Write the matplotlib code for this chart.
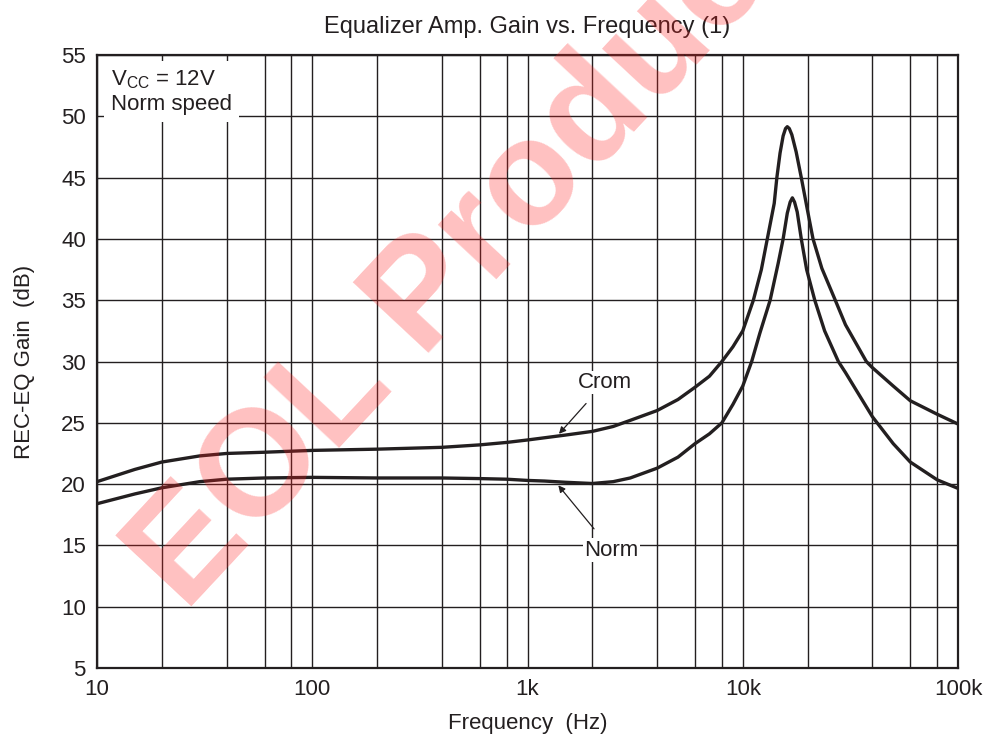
import numpy as np
import matplotlib
matplotlib.use("Agg")
import matplotlib.pyplot as plt
from matplotlib.ticker import FixedLocator, FixedFormatter, NullFormatter

plt.rcParams['font.family'] = ['Liberation Sans', 'DejaVu Sans']
plt.rcParams['mathtext.fontset'] = 'custom'
plt.rcParams['mathtext.rm'] = 'Liberation Sans'

# readings from the curves (Hz, dB)
crom_f = [10, 15, 20, 30, 40, 60, 100, 200, 400, 600, 800, 1000, 1500, 2000,
          2500, 3000, 4000, 5000, 6000, 7000, 8000, 9000, 10000, 11200, 12200,
          13000, 14000, 14400, 14900, 15400, 15800, 16100, 16450, 16900,
          17700, 18700, 20000, 21200, 23300, 26900, 30000, 37500, 40000,
          50000, 60000, 80000, 100000]
crom_db = [20.2, 21.2, 21.8, 22.3, 22.5, 22.6, 22.75, 22.85, 23.0, 23.2, 23.4,
           23.6, 24.0, 24.3, 24.7, 25.2, 26.0, 26.9, 27.9, 28.8, 30.0, 31.2,
           32.5, 35.0, 37.5, 40.0, 42.9, 45.0, 47.0, 48.4, 49.0, 49.15, 49.0,
           48.5, 47.1, 45.0, 42.3, 40.0, 37.6, 35.0, 33.0, 30.0, 29.5, 28.0,
           26.8, 25.7, 24.9]

norm_f = [10, 15, 20, 30, 40, 60, 100, 200, 400, 600, 800, 1000, 1200, 1500,
          2000, 2500, 3000, 4000, 5000, 6000, 7000, 8000, 9000, 10000, 11000,
          12000, 13400, 14600, 15400, 16100, 16600, 17000, 17400, 17900,
          18700, 19800, 21600, 24000, 27800, 30000, 40000, 50000, 60000,
          80000, 100000]
norm_db = [18.4, 19.2, 19.7, 20.2, 20.4, 20.5, 20.55, 20.5, 20.5, 20.45, 20.4,
           20.3, 20.25, 20.15, 20.05, 20.2, 20.5, 21.3, 22.2, 23.3, 24.1, 25.0,
           26.5, 28.0, 30.0, 32.3, 35.0, 38.0, 40.0, 42.1, 43.0, 43.35, 43.0,
           42.2, 40.0, 37.5, 35.0, 32.5, 30.0, 29.1, 25.5, 23.3, 21.8, 20.35,
           19.65]

x_ticks = [10, 100, 1000, 10000, 100000]
x_labels = ['10', '100', '1k', '10k', '100k']
x_minor = [m * d for d in [10, 100, 1000, 10000] for m in [2, 4, 6, 8]]
y_ticks = list(range(5, 56, 5))

ink = '#231f20'

fig = plt.figure(figsize=(9.9, 7.42), dpi=100)
ax = fig.add_axes([0.098, 0.0997, 0.8697, 0.8262])

# watermark behind everything
fig.text(0.187, 0.174, 'EOL Product', fontsize=108, fontweight='bold',
         color='#ff2020', alpha=0.28, rotation=47, rotation_mode='anchor',
         ha='left', va='baseline', zorder=0)
ax.set_facecolor('none')

ax.plot(crom_f, crom_db, color=ink, lw=2.4, zorder=3)
ax.plot(norm_f, norm_db, color=ink, lw=2.4, zorder=3)

ax.set_xscale('log')
ax.set_xlim(10, 100000)
ax.set_ylim(5, 55)
ax.xaxis.set_major_locator(FixedLocator(x_ticks))
ax.xaxis.set_major_formatter(FixedFormatter(x_labels))
ax.xaxis.set_minor_locator(FixedLocator(x_minor))
ax.xaxis.set_minor_formatter(NullFormatter())
ax.set_yticks(y_ticks)
ax.grid(True, which='both', color=ink, lw=1.0)
ax.tick_params(which='both', length=0, labelsize=16, pad=8, colors=ink)
for s in ax.spines.values():
    s.set_linewidth(1.6)
    s.set_color(ink)
    s.set_zorder(4)

ax.set_xlabel('Frequency  (Hz)', fontsize=16, color=ink, labelpad=9)
ax.set_ylabel('REC-EQ Gain  (dB)', fontsize=16, color=ink, labelpad=19)
ax.set_title('Equalizer Amp. Gain vs. Frequency (1)', fontsize=17,
             color=ink, pad=16)

ax.text(0.016, 0.978, '$\\mathrm{V_{CC}}$ = 12V\nNorm speed', transform=ax.transAxes,
        fontsize=16, color=ink, ha='left', va='top', linespacing=1.2,
        bbox=dict(facecolor='white', edgecolor='none', pad=5), zorder=5)

ax.annotate('Crom', xy=(1400, 24.1), xytext=(2290, 28.3), fontsize=16,
            color=ink, ha='center', va='center',
            bbox=dict(facecolor='white', edgecolor='none', pad=1),
            arrowprops=dict(arrowstyle='-|>', color=ink, lw=0.9,
                            mutation_scale=10, shrinkA=9, shrinkB=0), zorder=5)
ax.annotate('Norm', xy=(1390, 19.9), xytext=(2460, 14.6), fontsize=16,
            color=ink, ha='center', va='center',
            bbox=dict(facecolor='white', edgecolor='none', pad=1),
            arrowprops=dict(arrowstyle='-|>', color=ink, lw=0.9,
                            mutation_scale=10, shrinkA=9, shrinkB=0), zorder=5)

fig.savefig('out.png', dpi=100)
